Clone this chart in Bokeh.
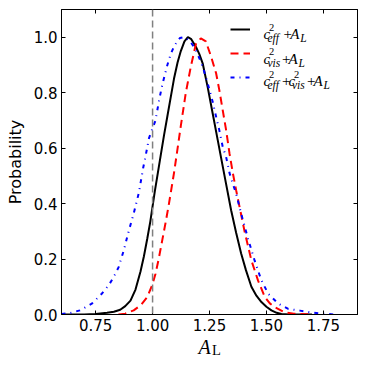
from bokeh.plotting import figure
from bokeh.layouts import column
from bokeh.models import (Label, Legend, LegendItem, Span, LinearAxis, FixedTicker,
                          PrintfTickFormatter, Range1d)
from bokeh.embed import file_html
from bokeh.resources import INLINE

# ---- data ----
black_x = [0.60, 0.70, 0.75, 0.80, 0.83, 0.858, 0.88, 0.903, 0.925, 0.947, 0.962, 0.977, 0.99,
           1.0, 1.01, 1.021, 1.035, 1.05, 1.065, 1.08, 1.094, 1.11, 1.124, 1.14, 1.155, 1.17,
           1.19, 1.205, 1.22, 1.242, 1.264, 1.286, 1.301, 1.323, 1.345, 1.367, 1.389, 1.41,
           1.434, 1.456, 1.478, 1.50, 1.522, 1.545, 1.566, 1.60, 1.70]
black_y = [0.0, 0.0, 0.002, 0.006, 0.01, 0.017, 0.03, 0.05, 0.09, 0.155, 0.21, 0.275, 0.335,
           0.39, 0.445, 0.50, 0.57, 0.645, 0.715, 0.785, 0.85, 0.91, 0.95, 0.985, 1.0, 0.993,
           0.966, 0.94, 0.906, 0.82, 0.725, 0.63, 0.565, 0.47, 0.376, 0.295, 0.22, 0.16,
           0.10, 0.068, 0.045, 0.028, 0.015, 0.006, 0.002, 0.0, 0.0]

red_x = [0.85, 0.88, 0.917, 0.95, 0.977, 1.0, 1.013, 1.028, 1.043, 1.058, 1.072, 1.094, 1.11,
         1.124, 1.146, 1.168, 1.19, 1.212, 1.234, 1.257, 1.279, 1.293, 1.308, 1.323, 1.338,
         1.353, 1.367, 1.382, 1.404, 1.434, 1.463, 1.493, 1.515, 1.537, 1.58, 1.62, 1.68, 1.70]
red_y = [0.0, 0.003, 0.015, 0.035, 0.063, 0.11, 0.147, 0.205, 0.27, 0.335, 0.40, 0.51, 0.60,
         0.68, 0.80, 0.894, 0.975, 0.996, 0.985, 0.93, 0.87, 0.81, 0.737, 0.665, 0.58,
         0.508, 0.448, 0.388, 0.30, 0.195, 0.123, 0.063, 0.04, 0.026, 0.008, 0.003, 0.001, 0.0]

blue_x = [0.60, 0.637, 0.681, 0.733, 0.777, 0.807, 0.829, 0.851, 0.873, 0.895, 0.917, 0.94,
          0.959, 0.969, 0.984, 0.999, 1.013, 1.028, 1.043, 1.065, 1.08, 1.094, 1.108, 1.12,
          1.135, 1.15, 1.161, 1.175, 1.19, 1.205, 1.22, 1.242, 1.264, 1.279, 1.293, 1.308,
          1.323, 1.338, 1.353, 1.367, 1.389, 1.419, 1.448, 1.478, 1.508, 1.552, 1.596, 1.647,
          1.69, 1.73, 1.77, 1.80]
blue_y = [0.002, 0.005, 0.015, 0.039, 0.075, 0.105, 0.135, 0.171, 0.23, 0.30, 0.364, 0.44,
          0.53, 0.57, 0.635, 0.67, 0.70, 0.77, 0.83, 0.90, 0.94, 0.966, 0.985, 0.997,
          1.0, 0.995, 0.99, 0.973, 0.954, 0.925, 0.894, 0.834, 0.767, 0.713, 0.665, 0.605,
          0.568, 0.51, 0.47, 0.436, 0.364, 0.274, 0.195, 0.123, 0.075, 0.039, 0.02, 0.014,
          0.008, 0.004, 0.002, 0.0]

ref_value = 1.0
x_ticks = [0.75, 1.00, 1.25, 1.50, 1.75]
y_ticks = [0.0, 0.2, 0.4, 0.6, 0.8, 1.0]
x_range = (0.6, 1.9)
y_range = (0.0, 1.1)

TICK_FONT = "DejaVu Sans"
MATH_FONT = "Liberation Serif"

p = figure(width=358, height=336, output_backend="svg", toolbar_location=None,
           x_range=Range1d(*x_range), y_range=Range1d(*y_range),
           min_border_left=61, min_border_right=1, min_border_top=9, min_border_bottom=22)
p.xgrid.visible = False
p.ygrid.visible = False
p.outline_line_color = "black"
p.outline_line_width = 1
p.background_fill_color = "white"
p.border_fill_color = "white"


def style_axis(ax, ticks, fmt, show_labels=True):
    ax.ticker = FixedTicker(ticks=ticks)
    ax.formatter = PrintfTickFormatter(format=fmt)
    ax.major_tick_in = 4
    ax.major_tick_out = 0
    ax.minor_tick_line_color = None
    ax.major_tick_line_color = "black"
    ax.axis_line_color = "black"
    ax.major_label_text_font = TICK_FONT
    ax.major_label_text_color = "black"
    if show_labels:
        ax.major_label_text_font_size = "15px"
        ax.major_label_standoff = 4
    else:
        ax.major_label_overrides = {t: "" for t in ticks}
        ax.major_label_text_font_size = "1px"
        ax.major_label_standoff = 0


style_axis(p.xaxis[0], x_ticks, "%.2f")
style_axis(p.yaxis[0], y_ticks, "%.1f")
p.yaxis[0].axis_label = "Probability"
p.yaxis[0].axis_label_text_font = TICK_FONT
p.yaxis[0].axis_label_text_font_size = "16px"
p.yaxis[0].axis_label_text_font_style = "normal"
p.yaxis[0].axis_label_text_color = "black"
p.yaxis[0].axis_label_standoff = 6

top_ax = LinearAxis()
style_axis(top_ax, x_ticks, "%.2f", show_labels=False)
p.add_layout(top_ax, "above")
right_ax = LinearAxis()
style_axis(right_ax, y_ticks, "%.1f", show_labels=False)
p.add_layout(right_ax, "right")

# reference line
p.add_layout(Span(location=ref_value, dimension="height", line_color="#808080",
                  line_width=1.5, line_dash="7 4"))

r_black = p.line(black_x, black_y, line_color="black", line_width=2)
r_red = p.line(red_x, red_y, line_color="#ff0000", line_width=2, line_dash="8 5")
r_blue = p.line(blue_x, blue_y, line_color="#0000ff", line_width=2, line_dash="4 5 1 5")

legend = Legend(items=[LegendItem(label="", renderers=[r_black]),
                       LegendItem(label="", renderers=[r_red]),
                       LegendItem(label="", renderers=[r_blue])],
                location=(169, 227), padding=0, margin=0, spacing=4,
                glyph_width=20, glyph_height=20, label_height=20, label_width=1,
                label_standoff=0, label_text_font_size="1px",
                background_fill_alpha=0, border_line_alpha=0)
p.add_layout(legend, "center")


def add_math(fig, pieces, x0, base):
    # pieces: (text, dx, rise, size_px, style)
    for text, dx, rise, size, style in pieces:
        fig.add_layout(Label(x=x0 + dx, y=base + rise, x_units="screen", y_units="screen",
                             text=text, text_font=MATH_FONT, text_font_size=f"{size}px",
                             text_font_style=style, text_color="black",
                             text_align="left", text_baseline="alphabetic"))


big, sup, sub = 15, 10.5, 11.5
# legend texts (frame screen coords)
add_math(p, [("c", 0, 0, big, "italic"), ("2", 5.5, 7, sup, "normal"),
             ("eff", 4, -4, sub, "italic"), ("+", 20, 0, big, "normal"),
             ("A", 26.7, 0, big, "italic"), ("L", 36.7, -4, sub, "italic")], 202, 280.5)
add_math(p, [("c", 0, 0, big, "italic"), ("2", 5.5, 7, sup, "normal"),
             ("vis", 4, -4, sub, "italic"), ("+", 18.5, 0, big, "normal"),
             ("A", 25, 0, big, "italic"), ("L", 35, -4, sub, "italic")], 202, 255.7)
add_math(p, [("c", 0, 0, big, "italic"), ("2", 5.5, 7, sup, "normal"),
             ("eff", 4, -4, sub, "italic"), ("+", 18.5, 0, big, "normal"),
             ("c", 25, 0, big, "italic"), ("2", 30.5, 7, sup, "normal"),
             ("vis", 28.5, -4, sub, "italic"), ("+", 43.5, 0, big, "normal"),
             ("A", 50, 0, big, "italic"), ("L", 60, -4, sub, "italic")], 202, 233.5)

# x-axis label  A_L  (strip below the plot; its frame aligns with the main frame)
p2 = figure(width=358, height=30, output_backend="svg", toolbar_location=None,
            x_range=Range1d(*x_range), y_range=Range1d(0, 1),
            x_axis_location=None, y_axis_location=None,
            min_border_left=0, min_border_right=0, min_border_top=0, min_border_bottom=0)
p2.xgrid.visible = False
p2.ygrid.visible = False
p2.outline_line_color = None
p2.background_fill_color = "white"
p2.border_fill_color = "white"
add_math(p2, [("A", 0, 0, 20, "italic"), ("L", 13.5, -3.5, 14.5, "normal")], 137, 20)

open("out.html", "w").write(file_html(column(p, p2, spacing=0), INLINE))
